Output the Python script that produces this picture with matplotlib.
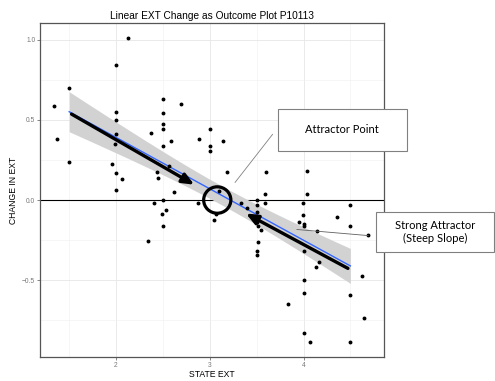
import numpy as np
import matplotlib
matplotlib.use("Agg")
import matplotlib.pyplot as plt
from matplotlib.patches import Ellipse, Rectangle

# jittered points as drawn (STATE EXT, CHANGE IN EXT)
state = [1.34, 1.37, 1.50, 1.50, 2.13, 2.00, 2.00, 2.00, 2.00, 1.99, 1.96, 2.00, 2.06, 2.00,
         2.50, 2.50, 2.50, 2.50, 2.50, 2.37, 2.59, 2.69, 2.44, 2.45, 2.56, 2.62, 2.89,
         3.00, 3.00, 3.00, 3.14, 3.18, 3.10, 2.41, 2.50, 2.49, 2.53, 2.50, 2.34, 2.87,
         3.07, 3.05, 3.33, 3.40, 3.50, 3.50, 3.59, 3.60, 3.59, 3.50, 3.50, 3.51, 3.55,
         3.51, 3.50, 3.50, 4.04, 4.04, 3.99, 4.50, 3.99, 4.36, 3.95, 4.00, 4.00, 4.50,
         4.14, 4.69, 4.00, 4.16, 4.13, 4.62, 4.00, 4.00, 4.50, 3.83, 4.65, 4.00, 4.07, 4.50]
change = [0.585, 0.38, 0.70, 0.24, 1.01, 0.845, 0.55, 0.50, 0.415, 0.35, 0.225, 0.17, 0.13, 0.065,
          0.63, 0.545, 0.475, 0.445, 0.34, 0.42, 0.37, 0.60, 0.175, 0.14, 0.21, 0.05, 0.38,
          0.445, 0.34, 0.305, 0.37, 0.175, 0.055, -0.02, 0.0, -0.09, -0.065, -0.16, -0.255, -0.02,
          -0.085, -0.125, -0.02, -0.05, 0.0, -0.03, -0.02, 0.175, 0.04, -0.075, -0.14, -0.165, -0.19,
          -0.26, -0.32, -0.345, 0.18, 0.04, -0.02, -0.03, -0.095, -0.105, -0.135, -0.15, -0.16, -0.16,
          -0.195, -0.22, -0.32, -0.39, -0.42, -0.475, -0.50, -0.58, -0.59, -0.65, -0.735, -0.83, -0.885, -0.885]

x_ticks = [2, 3, 4]
y_ticks = [-0.5, 0.0, 0.5, 1.0]

plt.rcParams['font.family'] = ['Liberation Sans', 'DejaVu Sans']

x = np.array(state)
y = np.array(change)

# linear fit + 95% confidence band, drawn over the 1.5..4.5 range
b1, b0 = np.polyfit(x, y, 1)
n = len(x)
res = y - (b0 + b1 * x)
s = np.sqrt(np.sum(res**2) / (n - 2))
sxx = np.sum((x - x.mean())**2)
xs = np.linspace(1.5, 4.5, 100)
ys = b0 + b1 * xs
half = 1.99 * s * np.sqrt(1 / n + (xs - x.mean())**2 / sxx)

fig = plt.figure(figsize=(4.95, 3.81), dpi=100)
ax = fig.add_axes([0.081, 0.063, 0.695, 0.877])

ax.set_xlim(1.19, 4.86)
ax.set_ylim(-0.98, 1.106)
ax.set_xticks(x_ticks)
ax.set_yticks(y_ticks)
ax.set_xticks([1.5, 2.5, 3.5, 4.5], minor=True)
ax.set_yticks([-0.75, -0.25, 0.25, 0.75], minor=True)
ax.grid(which='major', color='#e6e6e6', lw=0.6)
ax.grid(which='minor', color='#f0f0f0', lw=0.4)
ax.set_axisbelow(True)
ax.tick_params(which='major', length=2, width=0.5, color='#555555', labelsize=4.8, labelcolor='#777777', pad=1.5)
ax.tick_params(which='minor', length=0)
for sp in ax.spines.values():
    sp.set_color('#555555')
    sp.set_linewidth(0.9)

ax.axhline(0, color='black', lw=0.8, zorder=1)
ax.fill_between(xs, ys - half, ys + half, color='#d2d2d2', lw=0, zorder=2)
ax.plot(xs, ys, color='#3366FF', lw=1.0, zorder=3)
ax.scatter(x, y, s=3.2, color='black', zorder=4)

# arrows toward the attractor
ax.annotate('', xy=(2.86, 0.087), xytext=(1.5, 0.545),
            arrowprops=dict(arrowstyle='-|>,head_length=0.7,head_width=0.3', color='black', lw=2.4), zorder=5)
ax.annotate('', xy=(3.36, -0.076), xytext=(4.5, -0.435),
            arrowprops=dict(arrowstyle='-|>,head_length=0.7,head_width=0.3', color='black', lw=2.4), zorder=5)
ax.add_patch(Ellipse((3.08, 0.0), 0.29, 0.165, fill=False, ec='black', lw=2.3, zorder=6))

# callout lines
ax.plot([3.27, 3.67], [0.11, 0.41], color='#808080', lw=0.6, zorder=6)
ax.plot([3.93, 4.69], [-0.184, -0.222], color='#606060', lw=0.6, zorder=6)

ax.set_title('Linear EXT Change as Outcome Plot P10113', fontsize=7.3, pad=3)
ax.set_xlabel('STATE EXT', fontsize=6.2, labelpad=1)
ax.set_ylabel('CHANGE IN EXT', fontsize=6.2, labelpad=3)

# callout boxes
fig.add_artist(Rectangle((0.5616, 0.6037), 0.2606, 0.1103, transform=fig.transFigure,
                         fc='white', ec='#808080', lw=0.8))
fig.text(0.6916, 0.659, 'Attractor Point', fontsize=8, family='Lato', ha='center', va='center')
fig.add_artist(Rectangle((0.7596, 0.3386), 0.238, 0.105, transform=fig.transFigure,
                         fc='white', ec='#808080', lw=0.8))
fig.text(0.879, 0.391, 'Strong Attractor\n(Steep Slope)', fontsize=8, family='Lato',
         ha='center', va='center', linespacing=1.2)

fig.savefig('out.png', dpi=100)
